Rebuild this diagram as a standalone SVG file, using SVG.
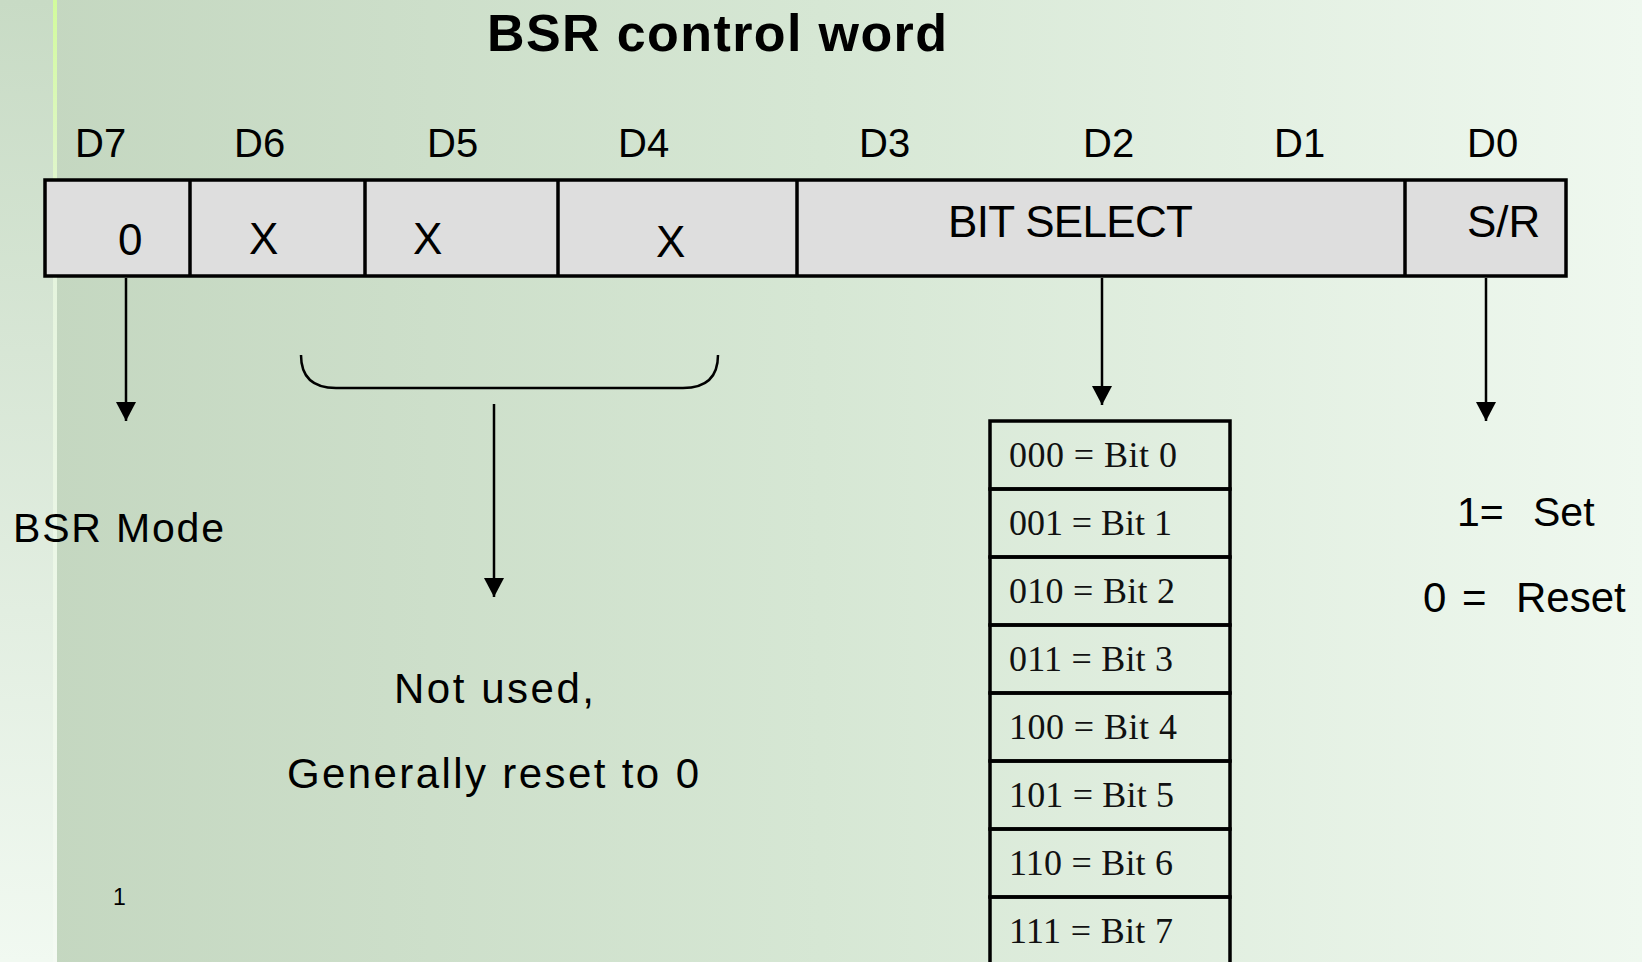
<svg xmlns="http://www.w3.org/2000/svg" width="1642" height="962" viewBox="0 0 1642 962">
<defs>
<linearGradient id="bg" x1="0" y1="0" x2="1" y2="0">
<stop offset="0" stop-color="#c3d6bf"/>
<stop offset="0.5" stop-color="#d6e7d4"/>
<stop offset="1" stop-color="#eff8ef"/>
</linearGradient>
<linearGradient id="strip" x1="0" y1="0" x2="0" y2="1">
<stop offset="0" stop-color="#c8dbc5"/>
<stop offset="1" stop-color="#f1f9f1"/>
</linearGradient>
<linearGradient id="line" x1="0" y1="0" x2="0" y2="1">
<stop offset="0" stop-color="#d2fb9c"/>
<stop offset="0.25" stop-color="#e4f4dc"/>
<stop offset="1" stop-color="#f4faf3"/>
</linearGradient>
<marker id="arr" markerUnits="userSpaceOnUse" markerWidth="20" markerHeight="20" viewBox="0 0 18 18" refX="17" refY="9" orient="auto">
<path d="M0,0 L17,9 L0,18 z" fill="#000"/>
</marker>
<style>
.sans{font-family:"Liberation Sans",Arial,sans-serif;fill:#000}
.serif{font-family:"Liberation Serif","Times New Roman",serif;fill:#111}
.lbl{font-size:40px}
.cell{font-size:44px}
.big{font-size:42px}
.row{font-size:36px}
.box{fill:#dedede;stroke:#000;stroke-width:3.5}
.tbl{fill:none;stroke:#000;stroke-width:3.5}
.con{stroke:#000;stroke-width:2.5;fill:none}
</style>
</defs>

<g id="background">
<rect x="0" y="0" width="1642" height="962" fill="url(#bg)"/>
<rect x="0" y="0" width="53" height="962" fill="url(#strip)"/>
<rect x="53" y="0" width="4" height="962" fill="url(#line)"/>
</g>

<g id="title">
<text class="sans" x="487" y="51" font-size="52" font-weight="bold" textLength="460" lengthAdjust="spacing">BSR control word</text>
</g>

<g id="bit-labels">
<text class="sans lbl" x="75" y="157">D7</text>
<text class="sans lbl" x="234" y="157">D6</text>
<text class="sans lbl" x="427" y="157">D5</text>
<text class="sans lbl" x="618" y="157">D4</text>
<text class="sans lbl" x="859" y="157">D3</text>
<text class="sans lbl" x="1083" y="157">D2</text>
<text class="sans lbl" x="1274" y="157">D1</text>
<text class="sans lbl" x="1467" y="157">D0</text>
</g>

<g id="control-word">
<rect class="box" x="45" y="180" width="1521" height="96"/>
<line class="box" x1="190" y1="180" x2="190" y2="276"/>
<line class="box" x1="365" y1="180" x2="365" y2="276"/>
<line class="box" x1="558" y1="180" x2="558" y2="276"/>
<line class="box" x1="797" y1="180" x2="797" y2="276"/>
<line class="box" x1="1405" y1="180" x2="1405" y2="276"/>
<text class="sans cell" x="118" y="255">0</text>
<text class="sans cell" x="249" y="254">X</text>
<text class="sans cell" x="413" y="254">X</text>
<text class="sans cell" x="656" y="257">X</text>
<text class="sans cell" x="948" y="237" textLength="245" lengthAdjust="spacing">BIT SELECT</text>
<text class="sans cell" x="1467" y="237">S/R</text>
</g>

<g id="connectors">
<line class="con" x1="126" y1="278" x2="126" y2="421" marker-end="url(#arr)"/>
<path class="con" d="M301,355 Q301,388 336,388 L683,388 Q718,388 718,355" stroke-width="3"/>
<line class="con" x1="494" y1="404" x2="494" y2="597" marker-end="url(#arr)"/>
<line class="con" x1="1102" y1="278" x2="1102" y2="405" marker-end="url(#arr)"/>
<line class="con" x1="1486" y1="278" x2="1486" y2="421" marker-end="url(#arr)"/>
</g>

<g id="bsr-mode">
<text class="sans" x="13" y="542" font-size="41" textLength="211" lengthAdjust="spacing">BSR Mode</text>
</g>

<g id="not-used">
<text class="sans big" x="394" y="703" textLength="200" lengthAdjust="spacing">Not used,</text>
<text class="sans big" x="287" y="788" textLength="412" lengthAdjust="spacing">Generally reset to 0</text>
</g>

<g id="bit-table">
<rect class="tbl" x="990" y="421" width="240" height="68"/>
<rect class="tbl" x="990" y="489" width="240" height="68"/>
<rect class="tbl" x="990" y="557" width="240" height="68"/>
<rect class="tbl" x="990" y="625" width="240" height="68"/>
<rect class="tbl" x="990" y="693" width="240" height="68"/>
<rect class="tbl" x="990" y="761" width="240" height="68"/>
<rect class="tbl" x="990" y="829" width="240" height="68"/>
<rect class="tbl" x="990" y="897" width="240" height="68"/>
<text class="serif row" x="1009" y="467" textLength="168" lengthAdjust="spacing">000 = Bit 0</text>
<text class="serif row" x="1009" y="535" textLength="163" lengthAdjust="spacing">001 = Bit 1</text>
<text class="serif row" x="1009" y="603" textLength="166" lengthAdjust="spacing">010 = Bit 2</text>
<text class="serif row" x="1009" y="671" textLength="164" lengthAdjust="spacing">011 = Bit 3</text>
<text class="serif row" x="1009" y="739" textLength="168" lengthAdjust="spacing">100 = Bit 4</text>
<text class="serif row" x="1009" y="807" textLength="165" lengthAdjust="spacing">101 = Bit 5</text>
<text class="serif row" x="1009" y="875" textLength="164" lengthAdjust="spacing">110 = Bit 6</text>
<text class="serif row" x="1009" y="943" textLength="164" lengthAdjust="spacing">111 = Bit 7</text>
</g>

<g id="set-reset">
<text class="sans" font-size="41" y="526"><tspan x="1457">1=</tspan><tspan x="1533">Set</tspan></text>
<text class="sans big" y="612"><tspan x="1423">0</tspan><tspan x="1462">=</tspan><tspan x="1516">Reset</tspan></text>
</g>

<g id="page-number">
<text class="sans" x="113" y="905" font-size="23">1</text>
</g>
</svg>
